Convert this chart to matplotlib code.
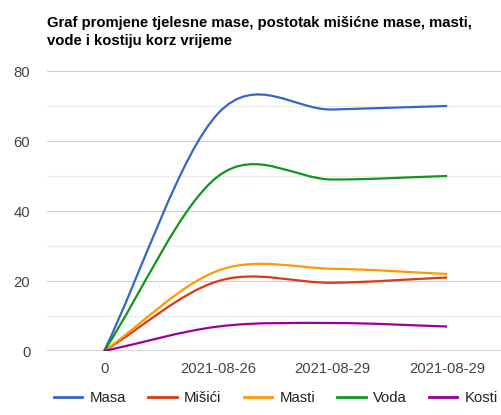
import numpy as np
import matplotlib.pyplot as plt
from matplotlib.path import Path
from matplotlib.patches import PathPatch
from matplotlib.lines import Line2D

plt.rcParams['font.family'] = ['Liberation Sans', 'DejaVu Sans']

categories = ['0', '2021-08-26', '2021-08-29', '2021-08-29']
masa = [0, 68, 69, 70]
misici = [0, 20, 19.5, 21]
masti = [0, 23, 23.5, 22]
voda = [0, 50, 49, 50]
kosti = [0, 7, 8, 7]

series = [('Masa', masa, '#3366cc'),
          ('Mišići', misici, '#dc3912'),
          ('Masti', masti, '#ff9900'),
          ('Voda', voda, '#109618'),
          ('Kosti', kosti, '#990099')]


def smooth_path(ys):
    # cubic bezier through the points, tangents like a catmull-rom spline
    ys = np.asarray(ys, dtype=float)
    xs = np.arange(len(ys))
    m = np.gradient(ys)
    verts = [(xs[0], ys[0])]
    codes = [Path.MOVETO]
    for i in range(len(ys) - 1):
        verts += [(xs[i] + 1 / 3, ys[i] + m[i] / 3),
                  (xs[i + 1] - 1 / 3, ys[i + 1] - m[i + 1] / 3),
                  (xs[i + 1], ys[i + 1])]
        codes += [Path.CURVE4] * 3
    return Path(verts, codes)


fig = plt.figure(figsize=(5.02, 4.15), dpi=100)
ax = fig.add_axes([47 / 502, 64 / 415, 1 - 47 / 502, 280 / 415])

handles = []
for name, vals, color in series:
    ax.add_patch(PathPatch(smooth_path(vals), facecolor='none', edgecolor=color,
                           lw=1.6, zorder=3))
    handles.append(Line2D([], [], color=color, lw=2.0, label=name))

ax.set_xlim(-0.5, 3.48)
ax.set_ylim(0, 80)
ax.set_xticks(range(len(categories)))
ax.set_xticklabels(categories)
ax.set_yticks([0, 20, 40, 60, 80])
ax.set_yticks([10, 30, 50, 70], minor=True)
ax.grid(axis='y', which='major', color='#cccccc', lw=0.8)
ax.grid(axis='y', which='minor', color='#ebebeb', lw=0.8)
ax.axhline(0, color='#333333', lw=1.0, zorder=4)
ax.set_axisbelow(True)
for s in ax.spines.values():
    s.set_visible(False)
ax.tick_params(axis='both', which='both', length=0, labelsize=10.7, colors='#444444')
ax.tick_params(axis='x', pad=8)
ax.tick_params(axis='y', pad=12)

fig.text(47 / 502, 1 - 16 / 415,
         'Graf promjene tjelesne mase, postotak mišićne mase, masti,\nvode i kostiju korz vrijeme',
         fontsize=10.7, fontweight='bold', va='top', ha='left', color='#000000', linespacing=1.32)

fig.legend(handles=handles, loc='center', bbox_to_anchor=(276 / 502, 1 - 398 / 415), ncol=5,
           frameon=False, fontsize=10.7, handlelength=1.9, handletextpad=0.5,
           columnspacing=1.5, labelcolor='#222222')

fig.savefig('out.png', dpi=100)
